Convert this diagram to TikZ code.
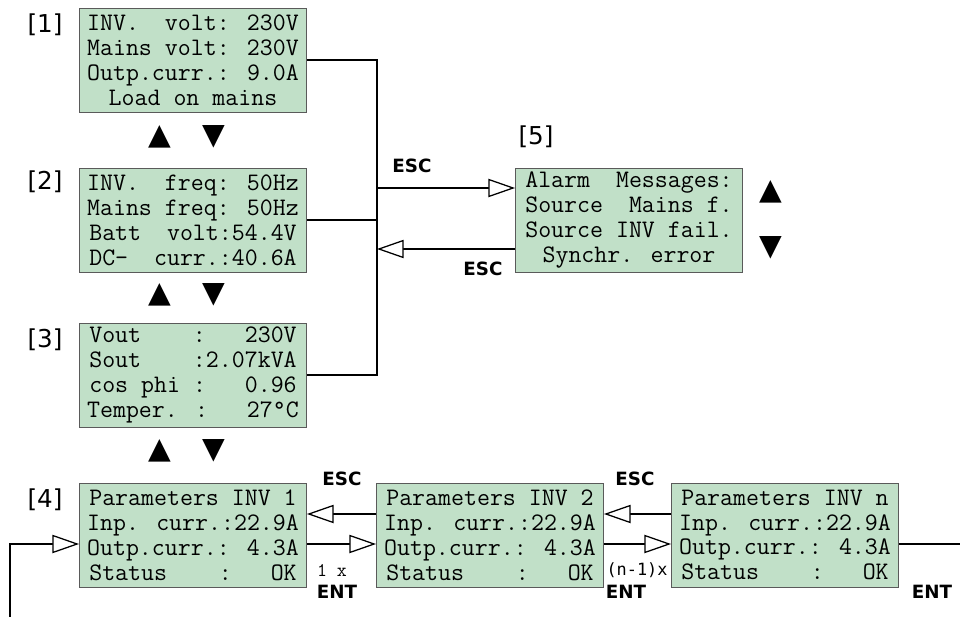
\documentclass[tikz,border=0pt]{standalone}
\usepackage{fontspec}
\setmainfont{DejaVu Sans}
\newfontfamily\sansmono{DejaVu Sans Mono}
\usetikzlibrary{arrows.meta}
\definecolor{lcdgreen}{RGB}{193,224,200}
\definecolor{lcdframe}{RGB}{90,90,90}
\tikzset{
  open/.style={-{Triangle[open, length=19pt, width=13pt, fill=white]}},
  key/.style={font=\bfseries\fontsize{13}{15}\selectfont},
}
\begin{document}
\begin{tikzpicture}[x=0.025cm, y=-0.025cm, line width=0.9pt]
      \useasboundingbox (0,0) rectangle (960,617);

      \begin{scope}[every node/.style={draw=lcdframe, fill=lcdgreen, line width=0.6pt,
          minimum width=5.675cm, minimum height=2.6cm, inner sep=0pt, align=center,
          font=\ttfamily\fontsize{17.9}{17.7}\selectfont}]
        \node (1) at (193,60)  {INV.~~volt: 230V\\Mains volt: 230V\\Outp.curr.: 9.0A\\Load on mains};
        \node (2) at (193,220) {INV.~~freq: 50Hz\\Mains freq: 50Hz\\Batt~~volt:54.4V\\DC-~~curr.:40.6A};
        \node (3) at (193,375) {Vout~~~~:~~~230V\\Sout~~~~:2.07kVA\\cos phi :~~~0.96\\Temper. :~~~27°C};
        \node (4) at (193,535) {Parameters INV 1\\Inp. curr.:22.9A\\Outp.curr.: 4.3A\\Status~~~~:~~~OK};
        \node (5) at (629,220) {Alarm~~Messages:\\Source~~Mains f.\\Source INV fail.\\Synchr. error};
        \node (6) at (490,535) {Parameters INV 2\\Inp. curr.:22.9A\\Outp.curr.: 4.3A\\Status~~~~:~~~OK};
        \node (7) at (785,535) {Parameters INV n\\Inp. curr.:22.9A\\Outp.curr.: 4.3A\\Status~~~~:~~~OK};
      \end{scope}

      \begin{scope}[every node/.style={font=\fontsize{17.5}{20}\selectfont}]
        \node (n1) at (45,25)   {[1]};
        \node (n2) at (45,182)  {[2]};
        \node (n3) at (45,340)  {[3]};
        \node (n4) at (45,500)  {[4]};
        \node (n5) at (536,137) {[5]};
      \end{scope}

      % up / down keys
      \begin{scope}[every node/.style={inner sep=0pt, font=\fontsize{21}{21}\selectfont}]
        \foreach \y [count=\i] in {137,295,451} {
          \node (up\i) at (160,\y) {▲};
          \node (dn\i) at (214,\y) {▼};
        }
        \node (up5) at (771,192) {▲};
        \node (dn5) at (771,248) {▼};
      \end{scope}

      \coordinate (bus) at (377,375);
      \coordinate (in5) at (377,188);
      \coordinate (out5) at (377,249);
      \coordinate (esc) at (0,514);
      \coordinate (ent) at (0,544);
      \coordinate (feed) at (10,617);
      \coordinate (loop) at (960,544);

      \draw (1.east) -| (bus) -- (3.east);
      \draw (2.east) -- (2.east -| bus);
      \draw[open] (in5) -- (in5 -| 5.west);
      \draw[open] (5.west |- out5) -- (out5);

      \draw[open] (feed) |- (4.west |- ent);
      \draw[open] (4.east |- ent) -- (6.west |- ent);
      \draw[open] (6.west |- esc) -- (4.east |- esc);
      \draw[open] (6.east |- ent) -- (7.west |- ent);
      \draw[open] (7.west |- esc) -- (6.east |- esc);
      \draw (7.east |- ent) -- (loop);

      \begin{scope}[every node/.style={key}]
        \node (esc1) at (412,166) {ESC};
        \node (esc2) at (483,269) {ESC};
        \node (esc3) at (342,479) {ESC};
        \node (esc4) at (635,479) {ESC};
        \node (ent1) at (337,592) {ENT};
        \node (ent2) at (626,592) {ENT};
        \node (ent3) at (932,592) {ENT};
      \end{scope}
      \node[font=\ttfamily\fontsize{13.7}{15}\selectfont] (once) at (332,570) {1 x};
      \node[font=\sansmono\fontsize{12}{14}\selectfont] (more) at (637,570) {(n-1)x};

\end{tikzpicture}
\end{document}
